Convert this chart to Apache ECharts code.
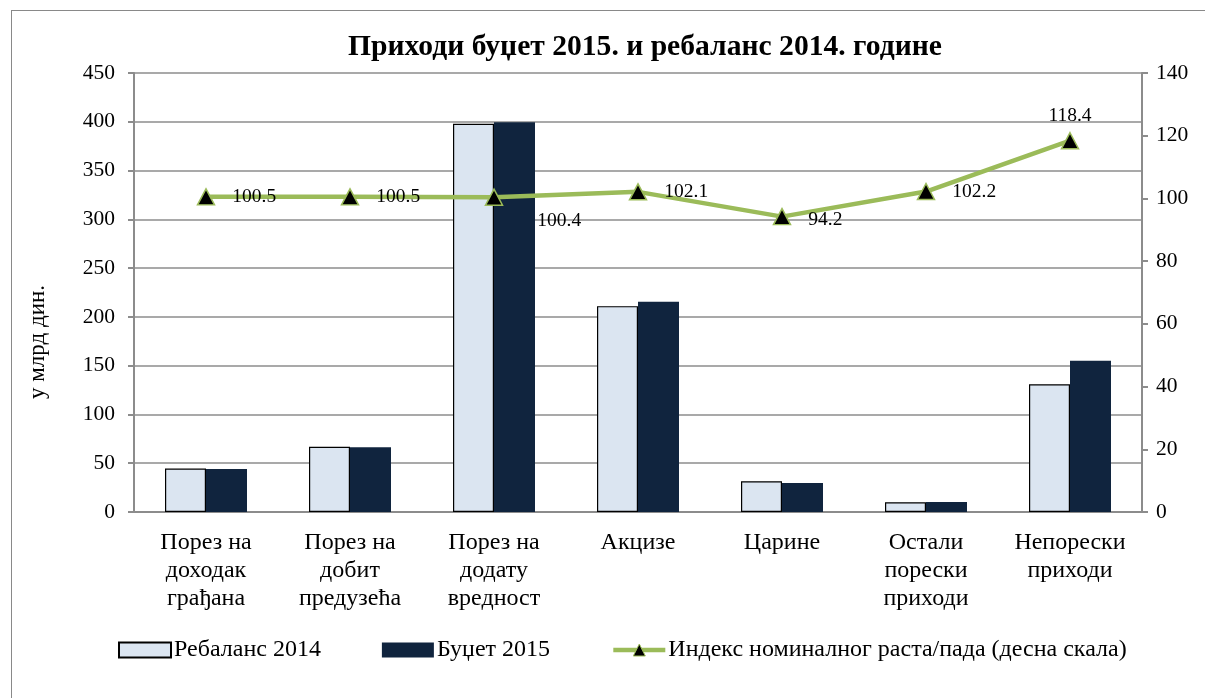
<!DOCTYPE html>
<html>
<head>
<meta charset="utf-8">
<script src="https://cdn.jsdelivr.net/npm/echarts@6/dist/echarts.min.js"></script>
<style>
  html, body { margin: 0; padding: 0; background: #fff; }
  #frame { position: absolute; left: 11px; top: 10px; width: 1300px; height: 800px; border: 1.5px solid #898989; box-sizing: border-box; }
  #chart { position: absolute; left: 0; top: 0; width: 1205px; height: 698px; }
</style>
</head>
<body>
<div id="frame"></div>
<div id="chart"></div>
<script>
const categories = [
  'Порез на\nдоходак\nграђана',
  'Порез на\nдобит\nпредузећа',
  'Порез на\nдодату\nвредност',
  'Акцизе',
  'Царине',
  'Остали\nпорески\nприходи',
  'Непорески\nприходи'
];
const rebalans2014 = [44.5, 66.8, 398, 211, 31.5, 10, 131];
const budzet2015 = [44, 66.5, 399.6, 215.4, 29.7, 10.2, 155];
const indeks = [100.5, 100.5, 100.4, 102.1, 94.2, 102.2, 118.4];
const leftTicks = { min: 0, max: 450, interval: 50 };
const rightTicks = { min: 0, max: 140, interval: 20 };

const font = '"Liberation Serif", "Times New Roman", serif';
const gridColor = '#8c8c8c';
const green = '#9bbb59';

const chart = echarts.init(document.getElementById('chart'), null, { renderer: 'canvas' });

// per-point label placement (the 100.4 label sits lower, 118.4 sits above)
const lineData = indeks.map((v, i) => {
  const d = { value: v };
  if (i === 2) d.label = { position: 'right', offset: [17, 24] };
  if (i === 4) d.label = { position: 'right', offset: [0, 3] };
  if (i === 6) d.label = { position: 'top', distance: 6 };
  return d;
});

const option = {
  animation: false,
  textStyle: { fontFamily: font, color: '#000' },
  title: {
    text: 'Приходи буџет 2015. и ребаланс 2014. године',
    left: 640,
    textAlign: 'center',
    top: 27,
    textStyle: { fontFamily: font, fontWeight: 'bold', fontSize: 29.6, color: '#000' }
  },
  grid: { left: 134, right: 63, top: 73, bottom: 186 },
  legend: {
    left: 118,
    top: 638,
    padding: 0,
    itemWidth: 52,
    itemHeight: 15,
    itemGap: 61,
    textStyle: { fontFamily: font, fontSize: 24, color: '#000', padding: [0, 0, 0, -2] },
    data: [
      { name: 'Ребаланс 2014', icon: 'rect' },
      { name: 'Буџет 2015', icon: 'rect' },
      {
        name: 'Индекс номиналног раста/пада (десна скала)',
        lineStyle: { color: green, width: 4.5 },
        itemStyle: { color: '#000', borderColor: green, borderWidth: 1 }
      }
    ]
  },
  graphic: [
    {
      type: 'text',
      x: 38,
      y: 342,
      rotation: Math.PI / 2,
      style: {
        text: 'у млрд дин.',
        font: '23px ' + font,
        fill: '#000',
        align: 'center',
        verticalAlign: 'middle'
      }
    }
  ],
  xAxis: {
    type: 'category',
    data: categories,
    axisLine: { lineStyle: { color: gridColor, width: 2 } },
    axisTick: { length: 6, lineStyle: { color: gridColor, width: 2 } },
    axisLabel: { interval: 0, fontFamily: font, fontSize: 24, color: '#000', lineHeight: 28, margin: 17 }
  },
  yAxis: [
    {
      type: 'value',
      min: leftTicks.min, max: leftTicks.max, interval: leftTicks.interval,
      axisLine: { show: true, lineStyle: { color: gridColor, width: 2 } },
      axisTick: { show: true, length: 6, lineStyle: { color: gridColor, width: 2 } },
      axisLabel: { fontFamily: font, fontSize: 21.5, color: '#000', margin: 19 },
      splitLine: { lineStyle: { color: gridColor, width: 1.5 } }
    },
    {
      type: 'value',
      min: rightTicks.min, max: rightTicks.max, interval: rightTicks.interval,
      position: 'right',
      axisLine: { show: true, lineStyle: { color: gridColor, width: 2 } },
      axisTick: { show: true, length: 6, lineStyle: { color: gridColor, width: 2 } },
      axisLabel: { fontFamily: font, fontSize: 21.5, color: '#000', margin: 14 },
      splitLine: { show: false }
    }
  ],
  series: [
    {
      name: 'Ребаланс 2014',
      type: 'bar',
      data: rebalans2014,
      barWidth: 41,
      barGap: '0%',
      itemStyle: { color: '#dbe5f1', borderColor: '#000', borderWidth: 1.2 }
    },
    {
      name: 'Буџет 2015',
      type: 'bar',
      data: budzet2015,
      barWidth: 41,
      itemStyle: { color: '#10243e' }
    },
    {
      name: 'Индекс номиналног раста/пада (десна скала)',
      type: 'line',
      yAxisIndex: 1,
      data: lineData,
      symbol: 'triangle',
      symbolSize: [17, 16],
      lineStyle: { color: green, width: 4.5 },
      itemStyle: { color: '#000', borderColor: green, borderWidth: 1.5 },
      label: {
        show: true,
        position: 'right',
        distance: 17,
        fontFamily: font,
        fontSize: 19.5,
        color: '#000'
      },
      z: 5
    }
  ]
};

chart.setOption(option);
</script>
</body>
</html>
